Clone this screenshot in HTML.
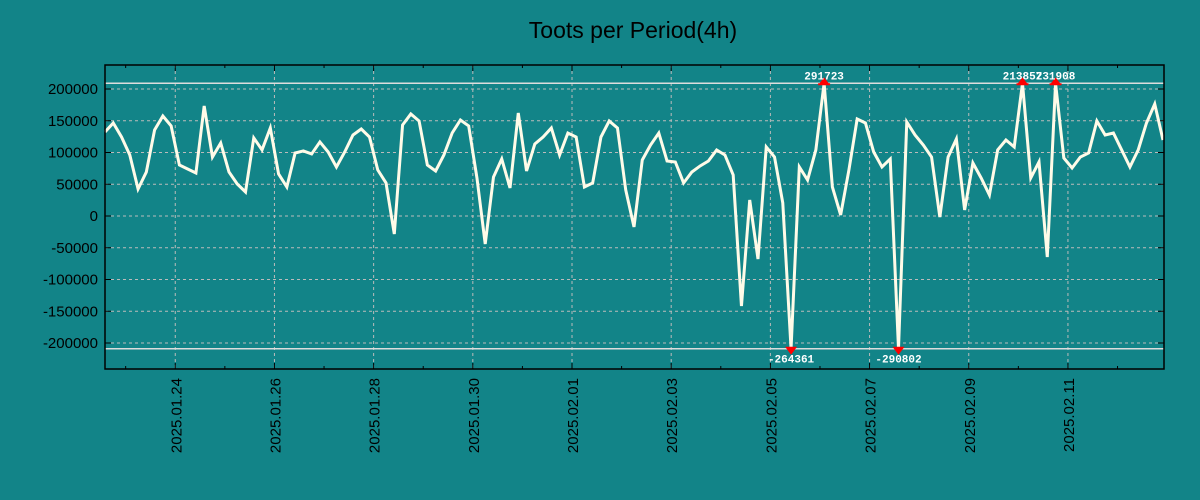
<!DOCTYPE html>
<html><head><meta charset="utf-8"><style>
body{margin:0;background:#128488;}
svg{display:block;font-family:"Liberation Sans",sans-serif;}
</style></head><body>
<svg id="chart" width="1200" height="500">
<rect width="1200" height="500" fill="#128488"/>
<text x="633" y="38" text-anchor="middle" font-size="23" fill="#000">Toots per Period(4h)</text>
<g id="grid"></g><g id="axes"></g><g id="series"></g><g id="marks"></g>
<rect x="105" y="65" width="1059" height="304" fill="none" stroke="#000" stroke-width="1.5"/>
</svg>
<script>
const values=[132300,146500,124400,96100,42500,69300,135500,157500,141800,80300,74000,67700,173300,92900,115000,69300,50400,37800,122900,104000,138600,66200,45700,99200,102400,97700,116600,100800,77200,100800,127600,137000,124400,72500,52000,-28400,143300,160700,149600,80300,70900,96100,130700,151200,141800,59900,-44100,61400,89800,44100,162200,70900,113400,124400,138600,96100,130700,124400,45700,52000,124400,149600,138600,41000,-17300,88200,111800,130700,86600,85100,52000,69300,78800,86600,104000,96100,64600,-141800,25200,-67700,108700,92900,20500,-264361,77200,56700,104000,291723,45700,1600,72500,152800,146500,100800,77200,89800,-290802,148100,127600,111800,92900,-1600,92900,121300,9500,83500,59900,33100,104000,119700,108700,213857,59900,85100,-64600,231908,91400,75600,92900,99200,149600,127600,130700,104000,77200,104000,146500,176400,119700];
const yTicks=[200000,150000,100000,50000,0,-50000,-100000,-150000,-200000];
const dateTicks=["2025.01.24","2025.01.26","2025.01.28","2025.01.30","2025.02.01","2025.02.03","2025.02.05","2025.02.07","2025.02.09","2025.02.11"];
const startTime=Date.UTC(2025,0,22,14);
const stepMs=4*3600*1000;
const clipLimit=209000;
const NS="http://www.w3.org/2000/svg";
const X0=105,X1=1163,T0=startTime,T1=startTime+(values.length-1)*stepMs;
const xs=t=>X0+(t-T0)/(T1-T0)*(X1-X0);
const ys=v=>216-v*127/200000;
function mk(tag,attrs,parent,txt){const e=document.createElementNS(NS,tag);for(const k in attrs)e.setAttribute(k,attrs[k]);if(txt!==undefined)e.textContent=txt;document.getElementById(parent).appendChild(e);return e;}
yTicks.forEach(v=>{const y=ys(v);
 const g=mk('line',{x1:105,x2:1164,y1:y,y2:y,stroke:'#bbb','stroke-dasharray':'3,3'},'grid');
 
 
 const t=mk('text',{x:98,y:y+5,'text-anchor':'end','font-size':'15',fill:'#000'},'axes',String(v));
 
 
 mk('line',{x1:105,x2:111,y1:y,y2:y,stroke:'#000'},'axes');mk('line',{x1:1158,x2:1164,y1:y,y2:y,stroke:'#000'},'axes');
});
for(let d=-1;d<=21;d++){const t=Date.UTC(2025,0,24+d);const x=xs(t);if(x<105||x>1164)continue;
 mk('line',{x1:x,x2:x,y1:369,y2:(d%2===0)?363:366,stroke:'#000'},'axes');mk('line',{x1:x,x2:x,y1:65,y2:(d%2===0)?71:68,stroke:'#000'},'axes');}
dateTicks.forEach(s=>{const p=s.split('.');const x=xs(Date.UTC(+p[0],+p[1]-1,+p[2]));
 const g=mk('line',{x1:x,x2:x,y1:65,y2:369,stroke:'#bbb','stroke-dasharray':'3,3'},'grid');
 
 
 const t=mk('text',{x:x+6,y:378,'text-anchor':'end','font-size':'15',fill:'#000',transform:`rotate(-90 ${x+6} 378)`},'axes',s);
 
 
});
mk('line',{x1:105,x2:1164,y1:ys(clipLimit),y2:ys(clipLimit),stroke:'#ddd','stroke-width':1.5},'grid');
mk('line',{x1:105,x2:1164,y1:ys(-clipLimit),y2:ys(-clipLimit),stroke:'#ddd','stroke-width':1.5},'grid');
const pts=values.map((v,i)=>[xs(T0+i*stepMs),ys(Math.max(-clipLimit,Math.min(clipLimit,v)))]);
const line=mk('polyline',{points:pts.map(p=>p.join(',')).join(' '),fill:'none',stroke:'#fffbe8','stroke-width':3,'stroke-linejoin':'miter'},'series');


values.forEach((v,i)=>{if(Math.abs(v)<=clipLimit)return;const x=pts[i][0],y=pts[i][1];
 const up=v>0;
 const m=mk('path',{d:up?`M${x-6},${y+2}L${x+6},${y+2}L${x},${y-6}Z M${x-6},${y+2}h12v-2h-12z`:`M${x-6},${y-2}L${x+6},${y-2}L${x},${y+6}Z`,fill:'#f00'},'marks');
 
 
 const t=mk('text',{x:x,y:up?y-4:y+14,'text-anchor':'middle','font-size':'11','font-weight':'bold','font-family':'Liberation Mono, monospace',fill:'#fff'},'marks',String(v));
 
 
});
</script>
</body></html>
